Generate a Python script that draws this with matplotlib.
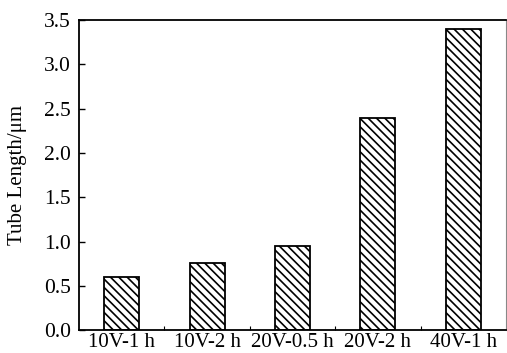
import numpy as np
import matplotlib.pyplot as plt
from matplotlib.ticker import FixedLocator

plt.rcParams['font.family'] = ['Liberation Serif', 'DejaVu Serif']
plt.rcParams['hatch.linewidth'] = 1.2

# Anodization conditions and measured tube lengths (um)
conditions = ['10V-1 h', '10V-2 h', '20V-0.5 h', '20V-2 h', '40V-1 h']
lengths = [0.60, 0.76, 0.95, 2.40, 3.40]

fig = plt.figure(figsize=(5.07, 3.53), dpi=100)
ax = fig.add_axes([0.156, 0.065, 0.842, 0.878])

x = np.arange(len(conditions))
ax.bar(x, lengths, width=0.41, color='white', edgecolor='black',
       linewidth=1.3, hatch='\\\\\\\\')

ax.set_xlim(-0.5, 4.5)
ax.set_ylim(0, 3.5)
ax.set_yticks(np.arange(0, 3.51, 0.5))
ax.set_xticks(x)
ax.set_xticklabels(conditions)
ax.xaxis.set_minor_locator(FixedLocator(x[:-1] + 0.5))

ax.tick_params(axis='y', direction='in', length=4, width=1, labelsize=15.5, pad=6)
ax.tick_params(axis='x', which='major', length=0, labelsize=15, pad=2)
ax.tick_params(axis='x', which='minor', direction='in', length=3, width=0.8)

for side in ['left', 'bottom', 'top']:
    ax.spines[side].set_linewidth(1.3)
ax.spines['right'].set_linewidth(0.8)
ax.spines['right'].set_color('#888888')

ax.set_ylabel('Tube Length/μm', fontsize=15, labelpad=12)

fig.savefig('out.png', dpi=100)
